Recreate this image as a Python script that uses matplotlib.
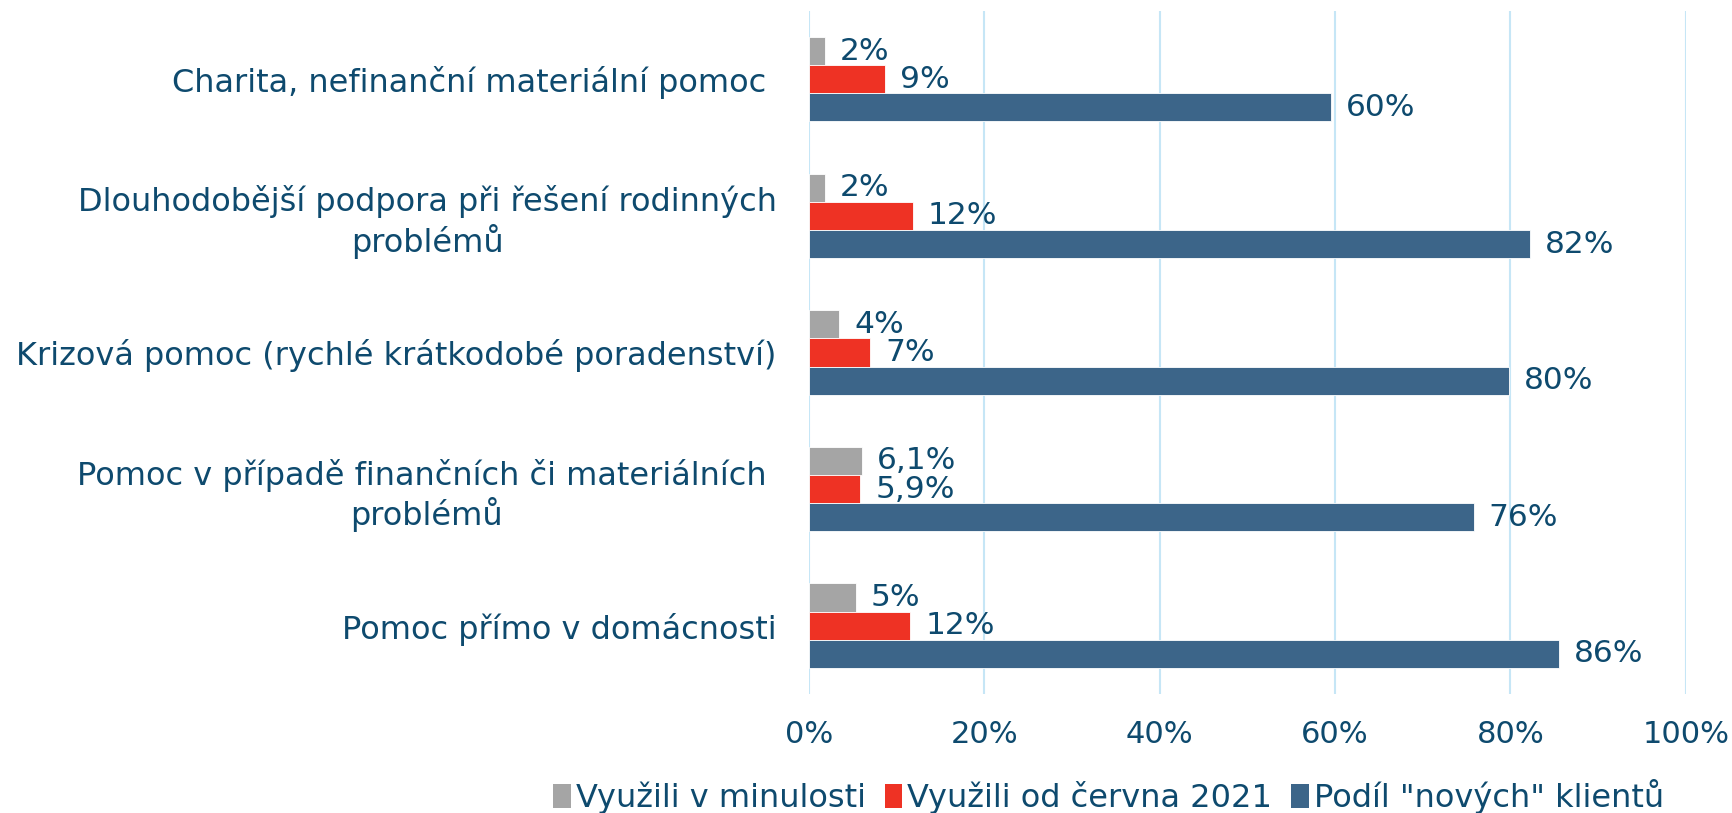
import numpy as np
import matplotlib.pyplot as plt
from matplotlib.patches import Patch

# data, top category first
categories = [
    "Charita, nefinanční materiální pomoc ",
    "Dlouhodobější podpora při řešení rodinných\nproblémů",
    "Krizová pomoc (rychlé krátkodobé poradenství)",
    "Pomoc v případě finančních či materiálních \nproblémů",
    "Pomoc přímo v domácnosti",
]
past_vals = [1.9, 1.9, 3.5, 6.1, 5.4]
past_labels = ["2%", "2%", "4%", "6,1%", "5%"]
since_vals = [8.7, 11.9, 7.0, 5.9, 11.6]
since_labels = ["9%", "12%", "7%", "5,9%", "12%"]
new_vals = [59.5, 82.2, 79.9, 75.8, 85.6]
new_labels = ["60%", "82%", "80%", "76%", "86%"]
series_names = ["Využili v minulosti", "Využili od června 2021", 'Podíl "nových" klientů']
x_ticks = [0, 20, 40, 60, 80, 100]

GRAY = "#a5a5a5"
RED = "#ee3224"
BLUE = "#3c6589"
TEXT = "#0e4a6e"
GRID = "#c6e6f6"

plt.rcParams["font.family"] = ["DejaVu Sans"]

fig = plt.figure(figsize=(17.32, 8.13), dpi=100)
ax = fig.add_axes([0.4669, 0.1464, 0.5064, 0.8401])

n = len(categories)
y = np.arange(n)[::-1].astype(float)
h = 0.206

series = [
    (past_vals, past_labels, GRAY, h),
    (since_vals, since_labels, RED, 0.0),
    (new_vals, new_labels, BLUE, -h),
]
for vals, labels, color, off in series:
    bars = ax.barh(y + off, vals, height=h, color=color, edgecolor="white",
                   linewidth=0.6, zorder=3)
    for b, lab in zip(bars, labels):
        ax.text(b.get_width() + 1.7, b.get_y() + b.get_height() / 2, lab,
                va="center", ha="left", fontsize=22.5, color=TEXT, zorder=4)

ax.set_xlim(0, 100)
ax.set_ylim(-0.5, n - 0.5)
ax.set_xticks(x_ticks)
ax.set_xticklabels([f"{t}%" for t in x_ticks], fontsize=22, color=TEXT)
ax.set_yticks(y)
ax.set_yticklabels(categories, fontsize=23, color=TEXT, multialignment="center")
ax.tick_params(axis="both", length=0)
ax.tick_params(axis="x", pad=19)
ax.tick_params(axis="y", pad=23)
ax.grid(axis="x", color=GRID, linewidth=1.5, zorder=0)
for s in ax.spines.values():
    s.set_visible(False)

handles = [Patch(facecolor=c) for c in (GRAY, RED, BLUE)]
fig.legend(handles, series_names, loc="center", bbox_to_anchor=(0.64, 0.02),
           ncol=3, frameon=False, fontsize=23, labelcolor=TEXT,
           handlelength=0.55, handleheight=0.8, handletextpad=0.15,
           columnspacing=0.6)

fig.savefig("out.png", dpi=100)
plt.close(fig)
